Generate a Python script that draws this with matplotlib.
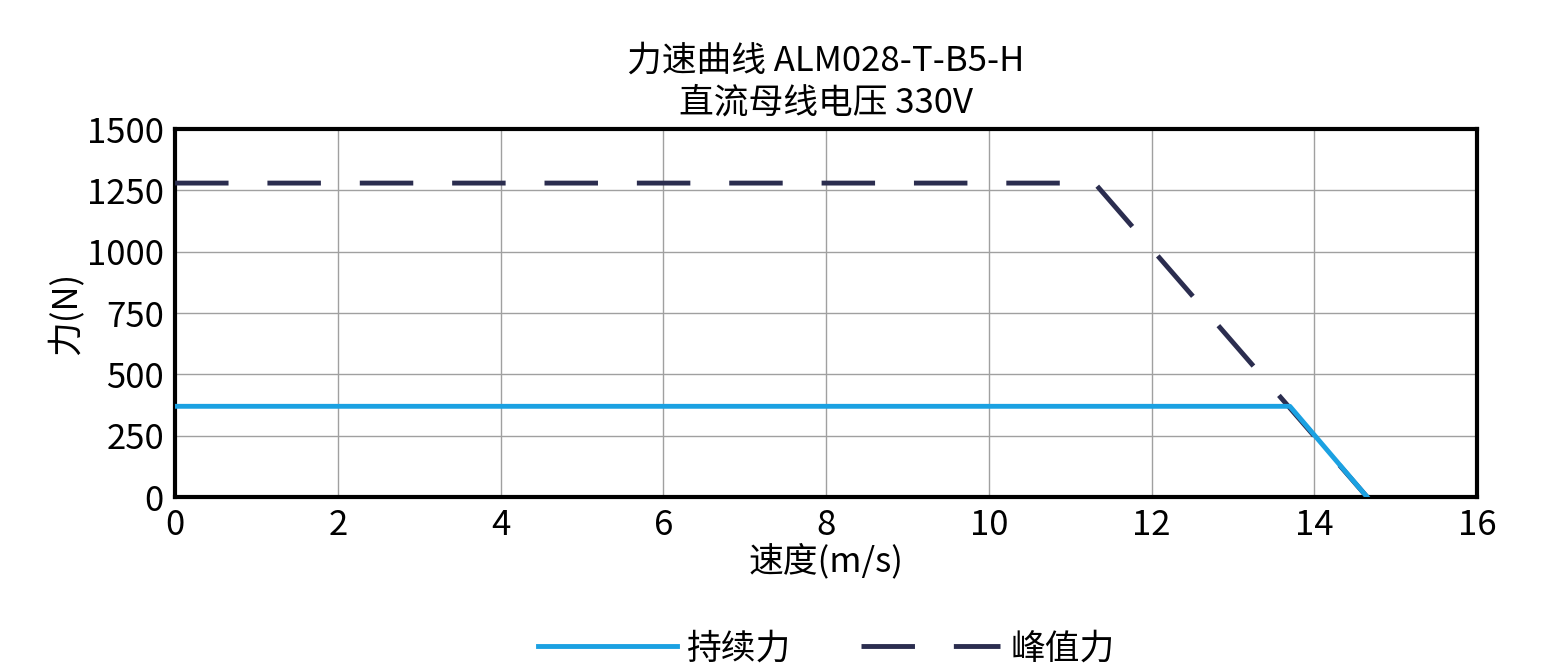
import matplotlib
matplotlib.use("Agg")
import matplotlib.pyplot as plt

plt.rcParams['font.family'] = ['Noto Sans CJK SC', 'DejaVu Sans']

# data
cont_speed = [0, 13.7, 14.65]
cont_force = [370, 370, 0]
peak_speed = [0, 11.3, 14.65]
peak_force = [1280, 1280, 0]

fig = plt.figure(figsize=(15.52, 6.69), dpi=100)
ax = fig.add_axes([0.1128, 0.257, 0.8389, 0.55])

ax.plot(peak_speed, peak_force, color='#2b2d4f', lw=3.5, ls=(0, (11, 8)), label='峰值力', zorder=3)
ax.plot(cont_speed, cont_force, color='#1ba1e2', lw=3.5, label='持续力', zorder=4)

ax.set_xlim(0, 16)
ax.set_ylim(0, 1500)
ax.set_xticks(range(0, 17, 2))
ax.set_yticks(range(0, 1501, 250))
ax.grid(True, color='#a0a0a0', lw=1)
for s in ax.spines.values():
    s.set_linewidth(3)
ax.tick_params(labelsize=25, length=0, pad=8)

ax.set_xlabel('速度(m/s)', fontsize=25, labelpad=0)
ax.set_ylabel('力(N)', fontsize=25, labelpad=2)
ax.set_title('力速曲线 ALM028-T-B5-H\n直流母线电压 330V', fontsize=25, linespacing=1.25, pad=12)

h, l = ax.get_legend_handles_labels()
ax.legend(h[::-1], l[::-1], loc='upper center', bbox_to_anchor=(0.5, -0.28), ncol=2, frameon=False,
          fontsize=25, handlelength=4, columnspacing=2.0, handletextpad=0.3)

fig.savefig('out.png', dpi=100)
